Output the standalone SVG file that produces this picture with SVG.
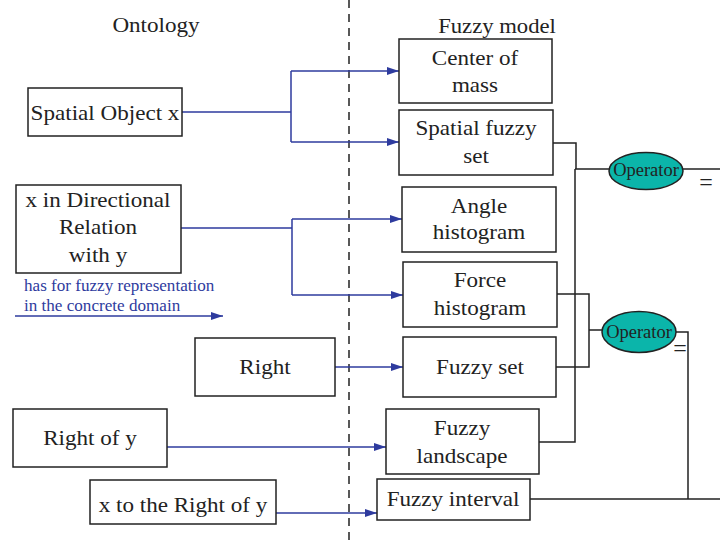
<svg xmlns="http://www.w3.org/2000/svg" width="720" height="541" viewBox="0 0 720 541">
<defs>
<marker id="ah" markerWidth="12" markerHeight="8" refX="12" refY="4" orient="auto" markerUnits="userSpaceOnUse">
<path d="M0,0 L12,4 L0,8 Z" fill="#2e3b9e"/>
</marker>
<style>
.box{fill:#fff;stroke:#222;stroke-width:1.5}
.t{font-family:"Liberation Serif","Times New Roman",serif;font-size:21px;fill:#222;text-anchor:middle}
.lg{font-family:"Liberation Serif","Times New Roman",serif;font-size:16px;fill:#2e3b9e}
.op{font-family:"Liberation Serif","Times New Roman",serif;font-size:18.5px;fill:#222;text-anchor:middle}
.eq{font-family:"Liberation Serif","Times New Roman",serif;font-size:24px;fill:#222;text-anchor:middle}
.blue{fill:none;stroke:#2e3b9e;stroke-width:1.5}
.blk{fill:none;stroke:#222;stroke-width:1.5}
.ell{fill:#0bb5aa;stroke:#222;stroke-width:1.5}
</style>
</defs>
<rect width="720" height="541" fill="#fff"/>
<line x1="349" y1="0" x2="349" y2="541" stroke="#222" stroke-width="1.5" stroke-dasharray="8,6"/>
<text class="t" transform="translate(156,32) scale(1.1,1)">Ontology</text>
<text class="t" transform="translate(497,33) scale(1.08,1)">Fuzzy model</text>

<g id="connectors">
<path class="blue" d="M182,112 H291 M291,71 V142"/>
<path class="blue" d="M291,71 H399" marker-end="url(#ah)"/>
<path class="blue" d="M291,142 H399" marker-end="url(#ah)"/>
<path class="blue" d="M181,228 H292 M292,219 V295"/>
<path class="blue" d="M292,219 H402" marker-end="url(#ah)"/>
<path class="blue" d="M292,295 H403" marker-end="url(#ah)"/>
<path class="blue" d="M335,367 H403" marker-end="url(#ah)"/>
<path class="blue" d="M167,447 H386" marker-end="url(#ah)"/>
<path class="blue" d="M276,513 H377" marker-end="url(#ah)"/>
<path class="blue" d="M15,316 H223" marker-end="url(#ah)"/>
<path class="blk" d="M553,143 H576 V169 M575,169 V442 H539 M575,169 H609"/>
<path class="blk" d="M683,169 H720"/>
<path class="blk" d="M557,294 H589 V367 H556 M589,330 H602"/>
<path class="blk" d="M676,332 H688 V499 M530,499 H720"/>
</g>
<text class="lg" transform="translate(24,291) scale(1.07,1)">has for fuzzy representation</text>
<text class="lg" transform="translate(24,311) scale(1.07,1)">in the concrete domain</text>

<g id="spatial-object"><rect class="box" x="28" y="88" width="154" height="48"/><text class="t" transform="translate(105,120) scale(1.1,1)">Spatial Object x</text></g>
<g id="directional-relation"><rect class="box" x="16" y="185" width="165" height="88"/><text class="t" transform="translate(98,207) scale(1.1,1)"><tspan x="0" y="0">x in Directional</tspan><tspan x="0" y="27">Relation</tspan><tspan x="0" y="55">with y</tspan></text></g>
<g id="right"><rect class="box" x="195" y="338" width="140" height="58"/><text class="t" transform="translate(265,374) scale(1.1,1)">Right</text></g>
<g id="right-of-y"><rect class="box" x="13" y="409" width="154" height="58"/><text class="t" transform="translate(90,445) scale(1.1,1)">Right of y</text></g>
<g id="x-right-of-y"><rect class="box" x="90" y="480" width="186" height="44"/><text class="t" transform="translate(183,512) scale(1.1,1)">x to the Right of y</text></g>

<g id="center-of-mass"><rect class="box" x="399" y="39" width="153" height="64"/><text class="t" transform="translate(475,65) scale(1.1,1)"><tspan x="0" y="0">Center of</tspan><tspan x="0" y="27">mass</tspan></text></g>
<g id="spatial-fuzzy-set"><rect class="box" x="399" y="110" width="154" height="65"/><text class="t" transform="translate(476,135) scale(1.1,1)"><tspan x="0" y="0">Spatial fuzzy</tspan><tspan x="0" y="28">set</tspan></text></g>
<g id="angle-histogram"><rect class="box" x="402" y="187" width="154" height="65"/><text class="t" transform="translate(479,213) scale(1.1,1)"><tspan x="0" y="0">Angle</tspan><tspan x="0" y="26">histogram</tspan></text></g>
<g id="force-histogram"><rect class="box" x="403" y="262" width="154" height="65"/><text class="t" transform="translate(480,287) scale(1.1,1)"><tspan x="0" y="0">Force</tspan><tspan x="0" y="28">histogram</tspan></text></g>
<g id="fuzzy-set"><rect class="box" x="403" y="337" width="153" height="60"/><text class="t" transform="translate(480,374) scale(1.1,1)">Fuzzy set</text></g>
<g id="fuzzy-landscape"><rect class="box" x="386" y="409" width="153" height="65"/><text class="t" transform="translate(462,435) scale(1.1,1)"><tspan x="0" y="0">Fuzzy</tspan><tspan x="0" y="28">landscape</tspan></text></g>
<g id="fuzzy-interval"><rect class="box" x="377" y="479" width="153" height="41"/><text class="t" transform="translate(453,506) scale(1.1,1)">Fuzzy interval</text></g>

<g id="operator-1"><ellipse class="ell" cx="646" cy="171" rx="37" ry="18.5"/><text class="op" x="646" y="176">Operator</text><text class="eq" x="706" y="190">=</text></g>
<g id="operator-2"><ellipse class="ell" cx="639" cy="332" rx="37" ry="20.5"/><text class="op" x="639" y="338">Operator</text><text class="eq" x="680" y="356">=</text></g>
</svg>
